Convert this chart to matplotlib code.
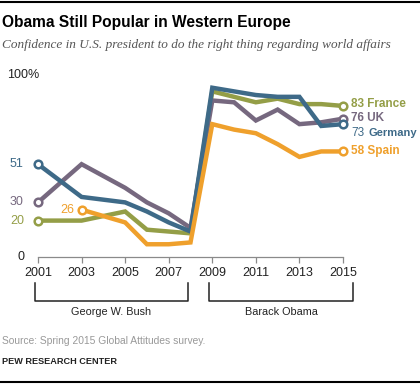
import numpy as np
import matplotlib
matplotlib.use("Agg")
import matplotlib.pyplot as plt

plt.rcParams['font.family'] = ['Liberation Sans', 'DejaVu Sans']

years = [2001, 2002, 2003, 2004, 2005, 2006, 2007, 2008,
         2009, 2010, 2011, 2012, 2013, 2014, 2015]
france = [20, None, 20, None, 25, 15, 14, 13, 91, 88, 85, 87, 84, 84, 83]
uk = [30, None, 51, None, 38, 30, 24, 16, 86, 85, 75, 81, 73, 74, 76]
germany = [51, None, 33, None, 30, 25, 19, 14, 93, 91, 89, 88, 88, 72, 73]
spain = [None, None, 26, None, 19, 7, 7, 8, 73, 70, 68, 62, 55, 58, 58]

countries = ["France", "UK", "Germany", "Spain"]
colors = ["#949E47", "#76687F", "#3E6A88", "#EFA02C"]
series = [france, uk, germany, spain]

tick_years = [2001, 2003, 2005, 2007, 2009, 2011, 2013, 2015]

fig = plt.figure(figsize=(4.2, 3.85), dpi=100)
ax = fig.add_axes([38 / 420, 1 - 257 / 385, (343 - 38) / 420, (257 - 75) / 385])

for name, col, vals in zip(countries, colors, series):
    xs = [y for y, v in zip(years, vals) if v is not None]
    ys = [v for v in vals if v is not None]
    ax.plot(xs, ys, color=col, lw=3.2, solid_joinstyle='miter', zorder=3)
    ax.plot([xs[0], xs[-1]], [ys[0], ys[-1]], 'o', ms=5.5, mfc='white',
            mec=col, mew=1.8, zorder=4, clip_on=False)

ax.set_xlim(2001, 2015)
ax.set_ylim(0, 100)
for s in ["top", "right", "left"]:
    ax.spines[s].set_visible(False)
ax.spines["bottom"].set_color("#8a8a8a")
ax.spines["bottom"].set_linewidth(0.9)
ax.set_yticks([])
ax.set_xticks(tick_years)
ax.set_xticklabels([str(y) for y in tick_years], fontsize=9, color="#222222")
ax.tick_params(axis='x', length=4, color="#8a8a8a", width=0.9, pad=3)

# y labels
ax.text(-0.045, 0, "0", transform=ax.get_yaxis_transform(), ha='right',
        va='center', fontsize=9, color="#222222")
ax.text(-0.1, 100, "100%", transform=ax.get_yaxis_transform(), ha='left',
        va='center', fontsize=9, color="#222222")

# start labels
ax.text(2000.35, 51, "51", ha='right', va='center', fontsize=9, color=colors[2])
ax.text(2000.35, 30, "30", ha='right', va='center', fontsize=9, color=colors[1])
ax.text(2000.35, 20, "20", ha='right', va='center', fontsize=9, color=colors[0])
ax.text(2002.65, 26, "26", ha='right', va='center', fontsize=9, color=colors[3])

# end labels
ax.text(2015.35, 84, "83 France", ha='left', va='center', fontsize=8.5,
        color=colors[0], fontweight='bold')
ax.text(2015.35, 76.5, "76 UK", ha='left', va='center', fontsize=8.5,
        color=colors[1], fontweight='bold')
ax.text(2015.4, 68, "73", ha='left', va='center', fontsize=8.5, color=colors[2])
ax.text(2016.15, 68, "Germany", ha='left', va='center', fontsize=8,
        color=colors[2], fontweight='bold')
ax.text(2015.35, 58, "58 Spain", ha='left', va='center', fontsize=8.5,
        color=colors[3], fontweight='bold')

# brackets
def bracket(x0, x1, label):
    y0, y1 = 1 - 283 / 385, 1 - 301 / 385
    xs = [x0, x0, x1, x1]
    ys = [y0, y1, y1, y0]
    fig.add_artist(plt.Line2D([x / 420 for x in xs], ys, color="#222222", lw=1.1))
    fig.text((x0 + x1) / 2 / 420, 1 - 312 / 385, label, ha='center',
             va='center', fontsize=7.8, color="#222222")

bracket(35, 188, "George W. Bush")
bracket(209, 353, "Barack Obama")

# title area
fig.add_artist(plt.Line2D([0, 1], [1 - 1.5 / 385] * 2, color="black", lw=1.5))
fig.text(2 / 420, 1 - 22 / 385, "Obama Still Popular in Western Europe",
         fontsize=11.2, fontweight='bold', ha='left', va='center', color="black")
fig.text(2 / 420, 1 - 45 / 385,
         "Confidence in U.S. president to do the right thing regarding world affairs",
         fontsize=9.5, style='italic', family='Liberation Serif', ha='left',
         va='center', color="#555555")

# footer
fig.text(2 / 420, 1 - 341 / 385, "Source: Spring 2015 Global Attitudes survey.",
         fontsize=7.4, color="#999999", ha='left', va='center')
fig.text(2 / 420, 1 - 362 / 385, "PEW RESEARCH CENTER", fontsize=6.6,
         fontweight='bold', color="#222222", ha='left', va='center')
fig.add_artist(plt.Line2D([0, 1], [1 - 382 / 385] * 2, color="black", lw=1.5))

fig.savefig("out.png", dpi=100)
